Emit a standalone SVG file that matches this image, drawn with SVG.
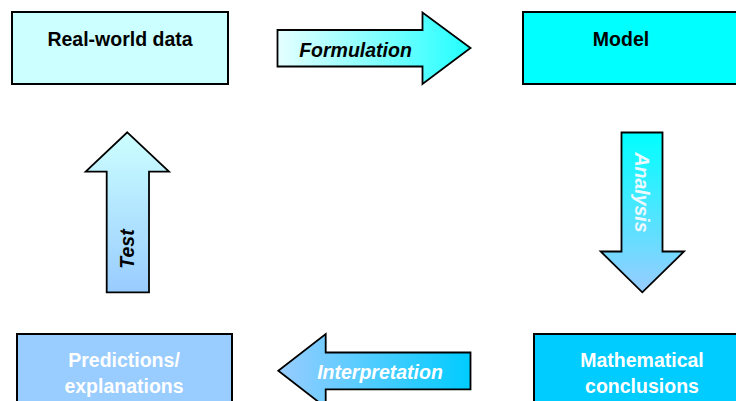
<svg xmlns="http://www.w3.org/2000/svg" width="736" height="401" viewBox="0 0 736 401">
<defs>
<linearGradient id="gForm" x1="0" y1="0" x2="1" y2="0"><stop offset="0" stop-color="#E6FFFF"/><stop offset="1" stop-color="#22FFFF"/></linearGradient>
<linearGradient id="gAna" x1="0" y1="0" x2="0" y2="1"><stop offset="0" stop-color="#00FFFF"/><stop offset="1" stop-color="#99CCFF"/></linearGradient>
<linearGradient id="gTest" x1="0" y1="0" x2="0" y2="1"><stop offset="0" stop-color="#CCFFFF"/><stop offset="1" stop-color="#99CCFF"/></linearGradient>
<linearGradient id="gInt" x1="0" y1="0" x2="1" y2="0"><stop offset="0" stop-color="#99CCFF"/><stop offset="1" stop-color="#00CCFF"/></linearGradient>
</defs>
<style>
.box{stroke:#000;stroke-width:2}
.arr{stroke:#000;stroke-width:1.8;stroke-linejoin:miter}
text{font-family:"Liberation Sans",Arial,sans-serif;font-weight:bold;font-size:19.5px;text-anchor:middle}
.it{font-style:italic}
.wh{fill:#FFFFFF}
.bk{fill:#000000}
</style>
<g id="real-world-data">
<rect class="box" x="12" y="12" width="216" height="72" fill="#CCFFFF"/>
<text class="bk" x="120" y="45.5">Real-world data</text>
</g>
<g id="model">
<rect class="box" x="523" y="12" width="220" height="72" fill="#00FFFF"/>
<text class="bk" x="621" y="45.5">Model</text>
</g>
<g id="mathematical-conclusions">
<rect class="box" x="534" y="334" width="210" height="80" fill="#00CCFF"/>
<text class="wh" x="642" y="367">Mathematical</text>
<text class="wh" x="642" y="393">conclusions</text>
</g>
<g id="predictions">
<rect class="box" x="17" y="334" width="215" height="80" fill="#99CCFF"/>
<text class="wh" x="124" y="367">Predictions/</text>
<text class="wh" x="124" y="393">explanations</text>
</g>
<g id="connectors">
<g id="formulation">
<polygon class="arr" fill="url(#gForm)" points="277.5,30 422.5,30 422.5,12.5 470.5,48 422.5,84 422.5,66.5 277.5,66.5"/>
<text class="bk it" x="355.5" y="56.5">Formulation</text>
</g>
<g id="analysis">
<polygon class="arr" fill="url(#gAna)" points="621.5,132.5 662.5,132.5 662.5,251.5 684,251.5 642.3,292.3 600.7,251.5 621.5,251.5"/>
<text class="it" fill="#EEF8FF" transform="translate(635,192.5) rotate(90)">Analysis</text>
</g>
<g id="interpretation">
<polygon class="arr" fill="url(#gInt)" points="470.5,352.5 470.5,389.3 325.7,389.3 325.7,407.5 278.3,370.7 325.7,334 325.7,352.5"/>
<text class="wh it" x="380" y="379.3">Interpretation</text>
</g>
<g id="test">
<polygon class="arr" fill="url(#gTest)" points="127.3,132.3 169,171.7 149,171.7 149,292.3 106.7,292.3 106.7,171.7 85.7,171.7"/>
<text class="bk it" transform="translate(133.5,249) rotate(-90)">Test</text>
</g>
</g>
</svg>
